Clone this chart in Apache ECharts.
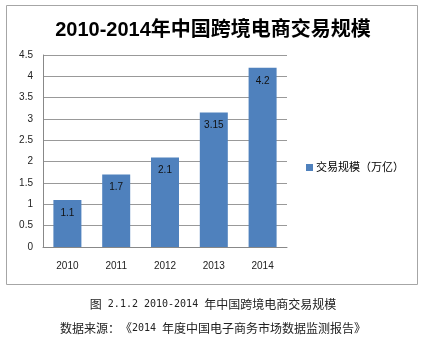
<!DOCTYPE html>
<html>
<head>
<meta charset="utf-8">
<script src="https://cdn.jsdelivr.net/npm/echarts@6/dist/echarts.min.js"></script>
<style>
  html, body { margin: 0; padding: 0; background: #ffffff; }
  #chart { width: 426px; height: 346px; }
</style>
</head>
<body>
<div id="chart"></div>
<script>
// Chart data
const years = ['2010', '2011', '2012', '2013', '2014'];
const tradeScale = [1.1, 1.7, 2.1, 3.15, 4.2];
const seriesName = '交易规模（万亿）';
const chartTitle = '2010-2014年中国跨境电商交易规模';
const captionLine1 = '图 2.1.2 2010-2014 年中国跨境电商交易规模';
const captionLine2 = '数据来源：《2014 年度中国电子商务市场数据监测报告》';

const chart = echarts.init(document.getElementById('chart'), null, { renderer: 'canvas' });

const sansFont = '"Liberation Sans", "Noto Sans CJK SC", sans-serif';

// Build rich text: half-width (ASCII) runs in a fixed-pitch face, each
// full-width character as its own token so every glyph keeps a full em box.
function captionRich(text) {
  let out = '';
  let run = '';
  for (const ch of text) {
    if (ch.charCodeAt(0) < 128) {
      run += ch;
    } else {
      if (run) { out += '{m|' + run + '}'; run = ''; }
      out += '{c|' + ch + '}';
    }
  }
  if (run) out += '{m|' + run + '}';
  return out;
}
const captionStyles = {
  c: { font: '12px "Noto Sans CJK SC", serif', fill: '#222222' },
  m: { font: '10px "DejaVu Sans Mono", monospace', fill: '#222222' }
};

chart.setOption({
  backgroundColor: '#ffffff',
  animation: false,
  title: {
    text: chartTitle,
    left: 'center',
    top: 15,
    textStyle: {
      fontFamily: sansFont,
      fontSize: 20,
      fontWeight: 'bold',
      color: '#000000'
    }
  },
  legend: {
    orient: 'vertical',
    left: 301,
    top: 157,
    itemWidth: 7,
    itemHeight: 7,
    itemGap: 4,
    icon: 'rect',
    textStyle: { fontFamily: sansFont, fontSize: 11, color: '#000000', padding: [0, 0, 0, -2] },
    data: [seriesName]
  },
  grid: { left: 43, top: 55, width: 244, height: 192, containLabel: false },
  xAxis: {
    type: 'category',
    data: years,
    axisLine: { show: true, lineStyle: { color: '#888888', width: 1 } },
    axisTick: { show: false },
    axisLabel: { fontFamily: sansFont, fontSize: 10, color: '#222222', margin: 14 }
  },
  yAxis: {
    type: 'value',
    min: 0,
    max: 4.5,
    interval: 0.5,
    axisLine: { show: true, lineStyle: { color: '#888888', width: 1 } },
    axisTick: { show: false },
    axisLabel: { fontFamily: sansFont, fontSize: 10, color: '#222222', margin: 10 },
    splitLine: { show: true, lineStyle: { color: '#999999', width: 1 } }
  },
  series: [{
    name: seriesName,
    type: 'bar',
    data: tradeScale,
    barWidth: 28,
    itemStyle: { color: '#4F81BD' },
    label: {
      show: true,
      position: 'insideTop',
      distance: 8,
      fontFamily: sansFont,
      fontSize: 10,
      color: '#111111'
    }
  }],
  graphic: [
    {
      type: 'rect',
      shape: { x: 6.5, y: 5.5, width: 411, height: 279 },
      style: { fill: 'none', stroke: '#a6a6a6', lineWidth: 1 },
      z: -1
    },
    {
      type: 'text',
      left: 'center',
      top: 298,
      style: { text: captionRich(captionLine1), rich: captionStyles }
    },
    {
      type: 'text',
      left: 'center',
      top: 322,
      style: { text: captionRich(captionLine2), rich: captionStyles }
    }
  ]
});
</script>
</body>
</html>
